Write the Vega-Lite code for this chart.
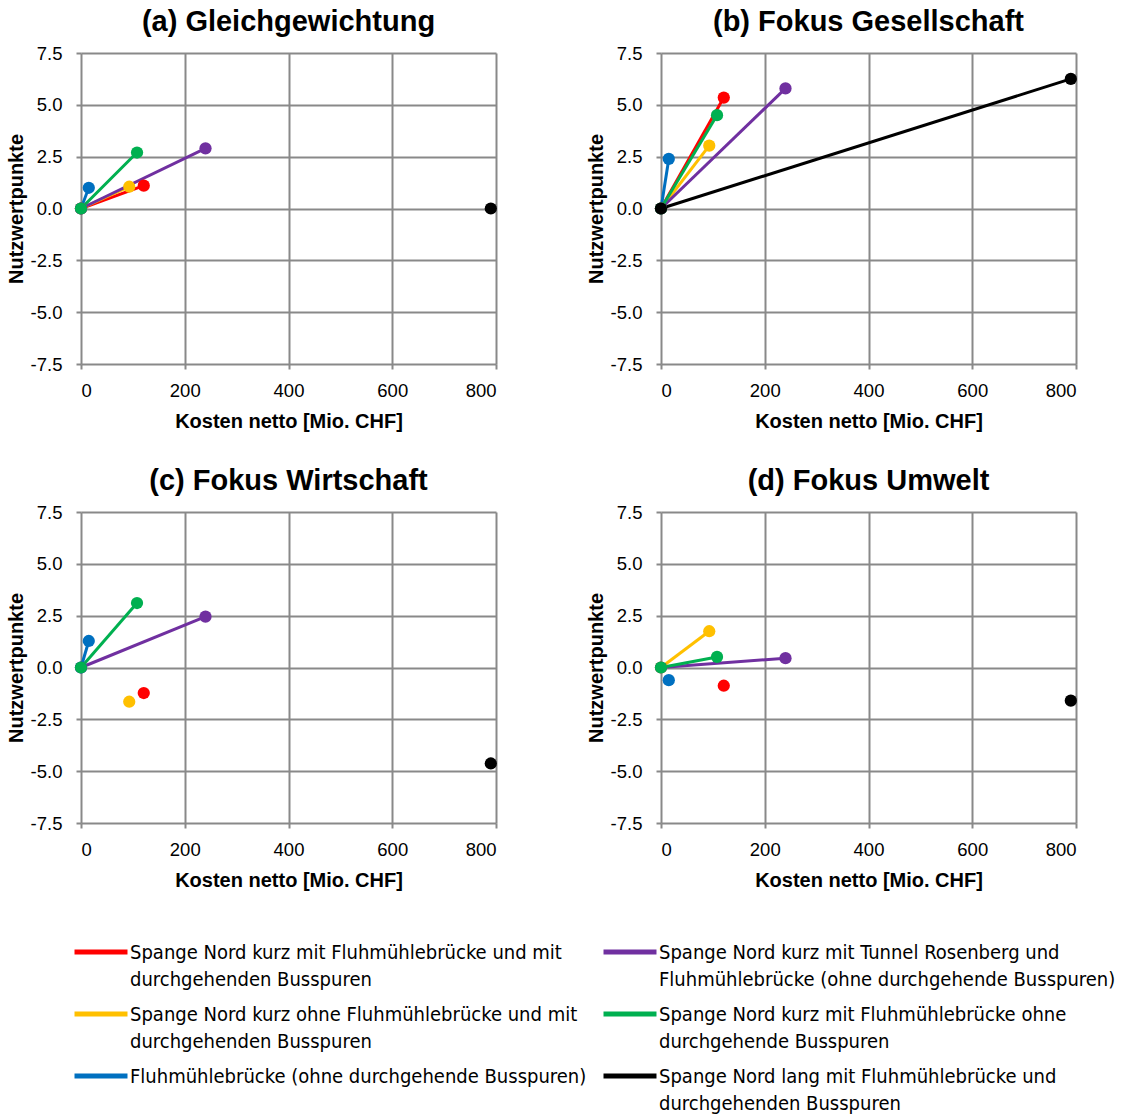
{
  "$schema": "https://vega.github.io/schema/vega-lite/v6.json",
  "background": "white",
  "padding": {"left": 6, "top": 8, "right": 10, "bottom": 0},
  "config": {
    "view": {"stroke": null},
    "axis": {
      "labelFont": "Liberation Sans", "labelFontSize": 18.5, "labelColor": "black",
      "titleFont": "Liberation Sans", "titleFontSize": 20, "titleFontWeight": "bold", "titleColor": "black",
      "gridColor": "#898989", "gridWidth": 2, "gridOpacity": 1,
      "domain": false, "tickColor": "#898989", "tickWidth": 2, "tickSize": 5
    }
  },
  "data": {"values": [
    {"panel": "(a) Gleichgewichtung", "series": "Spange Nord kurz mit Fluhmühlebrücke und mit durchgehenden Busspuren", "kosten": 0, "nutzwert": 0},
    {"panel": "(a) Gleichgewichtung", "series": "Spange Nord kurz mit Fluhmühlebrücke und mit durchgehenden Busspuren", "kosten": 121, "nutzwert": 1.1},
    {"panel": "(a) Gleichgewichtung", "series": "Spange Nord kurz ohne Fluhmühlebrücke und mit durchgehenden Busspuren", "kosten": 0, "nutzwert": 0},
    {"panel": "(a) Gleichgewichtung", "series": "Spange Nord kurz ohne Fluhmühlebrücke und mit durchgehenden Busspuren", "kosten": 93, "nutzwert": 1.05},
    {"panel": "(a) Gleichgewichtung", "series": "Fluhmühlebrücke (ohne durchgehende Busspuren)", "kosten": 0, "nutzwert": 0},
    {"panel": "(a) Gleichgewichtung", "series": "Fluhmühlebrücke (ohne durchgehende Busspuren)", "kosten": 15, "nutzwert": 1.0},
    {"panel": "(a) Gleichgewichtung", "series": "Spange Nord kurz mit Tunnel Rosenberg und Fluhmühlebrücke (ohne durchgehende Busspuren)", "kosten": 0, "nutzwert": 0},
    {"panel": "(a) Gleichgewichtung", "series": "Spange Nord kurz mit Tunnel Rosenberg und Fluhmühlebrücke (ohne durchgehende Busspuren)", "kosten": 240, "nutzwert": 2.9},
    {"panel": "(a) Gleichgewichtung", "series": "Spange Nord kurz mit Fluhmühlebrücke ohne durchgehende Busspuren", "kosten": 0, "nutzwert": 0},
    {"panel": "(a) Gleichgewichtung", "series": "Spange Nord kurz mit Fluhmühlebrücke ohne durchgehende Busspuren", "kosten": 108, "nutzwert": 2.7},
    {"panel": "(a) Gleichgewichtung", "series": "Spange Nord lang mit Fluhmühlebrücke und durchgehenden Busspuren", "kosten": 790, "nutzwert": 0},

    {"panel": "(b) Fokus Gesellschaft", "series": "Spange Nord kurz mit Fluhmühlebrücke und mit durchgehenden Busspuren", "kosten": 0, "nutzwert": 0},
    {"panel": "(b) Fokus Gesellschaft", "series": "Spange Nord kurz mit Fluhmühlebrücke und mit durchgehenden Busspuren", "kosten": 121, "nutzwert": 5.35},
    {"panel": "(b) Fokus Gesellschaft", "series": "Spange Nord kurz ohne Fluhmühlebrücke und mit durchgehenden Busspuren", "kosten": 0, "nutzwert": 0},
    {"panel": "(b) Fokus Gesellschaft", "series": "Spange Nord kurz ohne Fluhmühlebrücke und mit durchgehenden Busspuren", "kosten": 93, "nutzwert": 3.03},
    {"panel": "(b) Fokus Gesellschaft", "series": "Fluhmühlebrücke (ohne durchgehende Busspuren)", "kosten": 0, "nutzwert": 0},
    {"panel": "(b) Fokus Gesellschaft", "series": "Fluhmühlebrücke (ohne durchgehende Busspuren)", "kosten": 15, "nutzwert": 2.39},
    {"panel": "(b) Fokus Gesellschaft", "series": "Spange Nord kurz mit Tunnel Rosenberg und Fluhmühlebrücke (ohne durchgehende Busspuren)", "kosten": 0, "nutzwert": 0},
    {"panel": "(b) Fokus Gesellschaft", "series": "Spange Nord kurz mit Tunnel Rosenberg und Fluhmühlebrücke (ohne durchgehende Busspuren)", "kosten": 240, "nutzwert": 5.79},
    {"panel": "(b) Fokus Gesellschaft", "series": "Spange Nord kurz mit Fluhmühlebrücke ohne durchgehende Busspuren", "kosten": 0, "nutzwert": 0},
    {"panel": "(b) Fokus Gesellschaft", "series": "Spange Nord kurz mit Fluhmühlebrücke ohne durchgehende Busspuren", "kosten": 108, "nutzwert": 4.5},
    {"panel": "(b) Fokus Gesellschaft", "series": "Spange Nord lang mit Fluhmühlebrücke und durchgehenden Busspuren", "kosten": 0, "nutzwert": 0},
    {"panel": "(b) Fokus Gesellschaft", "series": "Spange Nord lang mit Fluhmühlebrücke und durchgehenden Busspuren", "kosten": 790, "nutzwert": 6.25},

    {"panel": "(c) Fokus Wirtschaft", "series": "Spange Nord kurz mit Fluhmühlebrücke und mit durchgehenden Busspuren", "kosten": 121, "nutzwert": -1.23},
    {"panel": "(c) Fokus Wirtschaft", "series": "Spange Nord kurz ohne Fluhmühlebrücke und mit durchgehenden Busspuren", "kosten": 93, "nutzwert": -1.65},
    {"panel": "(c) Fokus Wirtschaft", "series": "Fluhmühlebrücke (ohne durchgehende Busspuren)", "kosten": 0, "nutzwert": 0},
    {"panel": "(c) Fokus Wirtschaft", "series": "Fluhmühlebrücke (ohne durchgehende Busspuren)", "kosten": 15, "nutzwert": 1.28},
    {"panel": "(c) Fokus Wirtschaft", "series": "Spange Nord kurz mit Tunnel Rosenberg und Fluhmühlebrücke (ohne durchgehende Busspuren)", "kosten": 0, "nutzwert": 0},
    {"panel": "(c) Fokus Wirtschaft", "series": "Spange Nord kurz mit Tunnel Rosenberg und Fluhmühlebrücke (ohne durchgehende Busspuren)", "kosten": 240, "nutzwert": 2.45},
    {"panel": "(c) Fokus Wirtschaft", "series": "Spange Nord kurz mit Fluhmühlebrücke ohne durchgehende Busspuren", "kosten": 0, "nutzwert": 0},
    {"panel": "(c) Fokus Wirtschaft", "series": "Spange Nord kurz mit Fluhmühlebrücke ohne durchgehende Busspuren", "kosten": 108, "nutzwert": 3.11},
    {"panel": "(c) Fokus Wirtschaft", "series": "Spange Nord lang mit Fluhmühlebrücke und durchgehenden Busspuren", "kosten": 790, "nutzwert": -4.63},

    {"panel": "(d) Fokus Umwelt", "series": "Spange Nord kurz mit Fluhmühlebrücke und mit durchgehenden Busspuren", "kosten": 121, "nutzwert": -0.88},
    {"panel": "(d) Fokus Umwelt", "series": "Spange Nord kurz ohne Fluhmühlebrücke und mit durchgehenden Busspuren", "kosten": 0, "nutzwert": 0},
    {"panel": "(d) Fokus Umwelt", "series": "Spange Nord kurz ohne Fluhmühlebrücke und mit durchgehenden Busspuren", "kosten": 93, "nutzwert": 1.75},
    {"panel": "(d) Fokus Umwelt", "series": "Fluhmühlebrücke (ohne durchgehende Busspuren)", "kosten": 15, "nutzwert": -0.61},
    {"panel": "(d) Fokus Umwelt", "series": "Spange Nord kurz mit Tunnel Rosenberg und Fluhmühlebrücke (ohne durchgehende Busspuren)", "kosten": 0, "nutzwert": 0},
    {"panel": "(d) Fokus Umwelt", "series": "Spange Nord kurz mit Tunnel Rosenberg und Fluhmühlebrücke (ohne durchgehende Busspuren)", "kosten": 240, "nutzwert": 0.45},
    {"panel": "(d) Fokus Umwelt", "series": "Spange Nord kurz mit Fluhmühlebrücke ohne durchgehende Busspuren", "kosten": 0, "nutzwert": 0},
    {"panel": "(d) Fokus Umwelt", "series": "Spange Nord kurz mit Fluhmühlebrücke ohne durchgehende Busspuren", "kosten": 108, "nutzwert": 0.51},
    {"panel": "(d) Fokus Umwelt", "series": "Spange Nord lang mit Fluhmühlebrücke und durchgehenden Busspuren", "kosten": 790, "nutzwert": -1.6}
  ]},
  "facet": {
    "field": "panel", "type": "nominal",
    "sort": ["(a) Gleichgewichtung", "(b) Fokus Gesellschaft", "(c) Fokus Wirtschaft", "(d) Fokus Umwelt"],
    "header": {"title": null, "labelFont": "Liberation Sans", "labelFontSize": 29, "labelFontWeight": "bold", "labelColor": "black", "labelPadding": 7}
  },
  "columns": 2,
  "spacing": {"column": 89, "row": 35},
  "resolve": {"axis": {"x": "independent", "y": "independent"}},
  "spec": {
    "width": 415,
    "height": 311,
    "encoding": {
      "x": {"field": "kosten", "type": "quantitative", "title": "Kosten netto [Mio. CHF]",
        "scale": {"domain": [0, 800], "nice": false},
        "axis": {"values": [0, 200, 400, 600, 800], "labelPadding": 12, "titlePadding": 12}},
      "y": {"field": "nutzwert", "type": "quantitative", "title": "Nutzwertpunkte",
        "scale": {"domain": [-7.5, 7.5], "nice": false, "zero": false},
        "axis": {"values": [-7.5, -5, -2.5, 0, 2.5, 5, 7.5], "labelExpr": "datum.value < 0 ? '-' + format(-datum.value, '.1f') : format(datum.value, '.1f')", "labelPadding": 14, "titlePadding": 4}},
      "color": {"field": "series", "type": "nominal",
        "scale": {
          "domain": [
            "Spange Nord kurz mit Fluhmühlebrücke und mit durchgehenden Busspuren",
            "Spange Nord kurz mit Tunnel Rosenberg und Fluhmühlebrücke (ohne durchgehende Busspuren)",
            "Spange Nord kurz ohne Fluhmühlebrücke und mit durchgehenden Busspuren",
            "Spange Nord kurz mit Fluhmühlebrücke ohne durchgehende Busspuren",
            "Fluhmühlebrücke (ohne durchgehende Busspuren)",
            "Spange Nord lang mit Fluhmühlebrücke und durchgehenden Busspuren"
          ],
          "range": ["#FF0000", "#7030A0", "#FFC000", "#00B050", "#0070C0", "#000000"]
        },
        "legend": {
          "orient": "bottom", "columns": 2, "title": null, "offset": 45,
          "symbolType": "M-2,0H2", "symbolSize": 702, "symbolStrokeWidth": 5, "symbolOffset": 4,
          "labelFont": "DejaVu Sans Condensed, Liberation Sans", "labelFontSize": 20, "labelLimit": 0, "labelOffset": 13,
          "rowPadding": 8, "columnPadding": 6,
          "labelBaseline": "alphabetic",
          "labelExpr": "datum.label == 'Spange Nord kurz mit Fluhmühlebrücke und mit durchgehenden Busspuren' ? ['Spange Nord kurz mit Fluhmühlebrücke und mit', 'durchgehenden Busspuren'] : datum.label == 'Spange Nord kurz ohne Fluhmühlebrücke und mit durchgehenden Busspuren' ? ['Spange Nord kurz ohne Fluhmühlebrücke und mit', 'durchgehenden Busspuren'] : datum.label == 'Spange Nord kurz mit Tunnel Rosenberg und Fluhmühlebrücke (ohne durchgehende Busspuren)' ? ['Spange Nord kurz mit Tunnel Rosenberg und', 'Fluhmühlebrücke (ohne durchgehende Busspuren)'] : datum.label == 'Spange Nord kurz mit Fluhmühlebrücke ohne durchgehende Busspuren' ? ['Spange Nord kurz mit Fluhmühlebrücke ohne', 'durchgehende Busspuren'] : datum.label == 'Spange Nord lang mit Fluhmühlebrücke und durchgehenden Busspuren' ? ['Spange Nord lang mit Fluhmühlebrücke und', 'durchgehenden Busspuren'] : datum.label",
          "encode": {"labels": {"update": {"dy": {"value": 7}, "lineHeight": {"value": 27}}}}
        }
      }
    },
    "layer": [
      {"mark": {"type": "line", "strokeWidth": 3}},
      {"mark": {"type": "point", "filled": true, "size": 150, "opacity": 1}}
    ]
  }
}
